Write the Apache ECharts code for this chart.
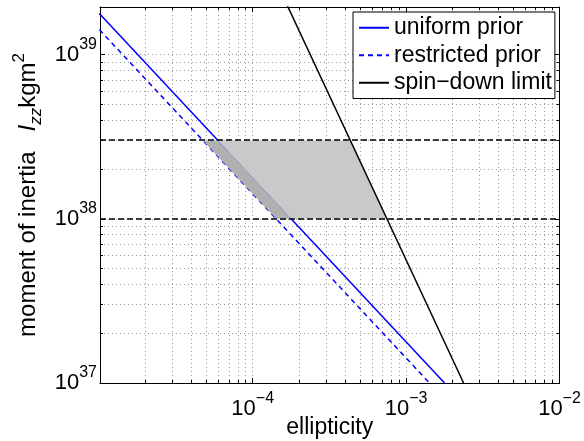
<!DOCTYPE html>
<html>
<head>
<meta charset="utf-8">
<script src="https://cdn.jsdelivr.net/npm/echarts@6/dist/echarts.min.js"></script>
<style>
  html, body { margin: 0; padding: 0; background: #fff; }
  #chart { width: 584px; height: 441px; }
</style>
</head>
<body>
<div id="chart"></div>
<script>
// values (ellipticity vs moment of inertia, kg m^2)
var uniformEps = [1e-5, 1.78e-3]
var uniformI = [1.78e39, 1e37]
var restrictedEps = [1e-5, 1.42e-3]
var restrictedI = [1.42e39, 1e37]
var spinEps = [1.5e-4, 2.37e-3]
var spinI = [2.5e39, 1e37]
// horizontal limits on I_zz
var bandI = [1e38, 3e38]
// corners of the shaded regions
var darkEps = [4.73e-5, 5.93e-5, 1.78e-4, 1.42e-4]
var darkI = [3e38, 3e38, 1e38, 1e38]
var lightEps = [5.93e-5, 4.33e-4, 7.5e-4, 1.78e-4]
var lightI = [3e38, 3e38, 1e38, 1e38]
// axes
var xRange = [1.01e-5, 1e-2]
var yRange = [1e37, 1.95e39]
var xDecades = [1e-5, 1e-4, 1e-3, 1e-2]
var yDecades = [1e37, 1e38, 1e39]
var xLabels = [1e-4, 1e-3, 1e-2]
var yLabels = [1e37, 1e38, 1e39]
var seriesNames = ['uniform prior', 'restricted prior', 'spin\u2212down limit']

var lg = Math.log10
var FONT = '"Liberation Sans", Arial, Helvetica, sans-serif'

function toLog (arr) {
  return arr.map(function (v) { return lg(v) })
}
function inRange (vals, range) {
  return vals.filter(function (v) { return v >= lg(range[0]) - 1e-9 && v <= lg(range[1]) + 1e-9 })
}
function minorTicks (decades, range) {
  var out = []
  decades.forEach(function (d) {
    for (var k = 2; k <= 9; k++) out.push(lg(k * d))
  })
  return inRange(out, range)
}
function pairs (xs, ys) {
  return xs.map(function (x, i) { return [lg(x), lg(ys[i])] })
}

var xMajor = inRange(toLog(xDecades), xRange)
var xMinor = minorTicks(xDecades, xRange)
var yMajor = inRange(toLog(yDecades), yRange)
var yMinor = minorTicks(yDecades, yRange)

var gridLine = { type: [1, 3], color: '#9a9a9a', width: 1 }

function powLabel (v) {
  var e = Math.round(v)
  return '{b|10}{s|' + (e < 0 ? '\u2212' + (-e) : e) + '}'
}
var powRich = {
  b: { fontSize: 22, lineHeight: 36, color: '#000', fontFamily: FONT },
  s: { fontSize: 16, lineHeight: 16, verticalAlign: 'top', color: '#000', fontFamily: FONT }
}

// one axis layer: major or minor ticks, pointing inward
function axisLayer (pos, range, ticks, major, extra) {
  var a = {
    type: 'value',
    position: pos,
    min: lg(range[0]),
    max: lg(range[1]),
    nameMoveOverlap: false,
    axisLine: { show: major, onZero: false, lineStyle: { color: '#000', width: 1 } },
    axisTick: { show: true, inside: true, length: major ? 5 : 3, customValues: ticks, lineStyle: { color: '#000', width: 1 } },
    axisLabel: { show: false },
    splitLine: { show: pos === 'bottom' || pos === 'left', customValues: ticks, lineStyle: gridLine }
  }
  return Object.assign(a, extra || {})
}

// gray regions between the lines and the spin-down limit
function shadeSeries (eps, I, color) {
  var data = pairs(eps, I)
  return {
    type: 'custom',
    z: 3,
    silent: true,
    data: data,
    renderItem: function (params, api) {
      if (params.dataIndex !== 0) return null
      var pts = data.map(function (d) { return api.coord(d) })
      return { type: 'polygon', shape: { points: pts }, style: { fill: color } }
    }
  }
}

var chart = echarts.init(document.getElementById('chart'))

chart.setOption({
  animation: false,
  textStyle: { fontFamily: FONT },
  grid: { left: 100, right: 24.5, top: 7, bottom: 58, containLabel: false, outerBoundsMode: 'none' },
  legend: {
    data: seriesNames,
    orient: 'vertical',
    left: 353,
    top: 12,
    padding: [2, 3, 2, 5],
    itemGap: 0,
    itemWidth: 30,
    itemHeight: 10,
    backgroundColor: '#fff',
    borderColor: '#000',
    borderWidth: 1,
    borderRadius: 0,
    z: 10,
    itemStyle: { opacity: 0 },
    textStyle: { fontSize: 23, lineHeight: 27.5, color: '#000', fontFamily: FONT }
  },
  xAxis: [
    axisLayer('bottom', xRange, xMajor, true, {
      name: 'ellipticity',
      nameLocation: 'middle',
      nameGap: 32,
      nameTextStyle: { fontSize: 23, lineHeight: 26, color: '#000', fontFamily: FONT },
      axisLabel: { show: true, customValues: toLog(xLabels), formatter: powLabel, rich: powRich, margin: 8 }
    }),
    axisLayer('bottom', xRange, xMinor, false),
    axisLayer('top', xRange, xMajor, true),
    axisLayer('top', xRange, xMinor, false)
  ],
  yAxis: [
    axisLayer('left', yRange, yMajor, true, {
      name: '{n|moment of inertia   }{i|I}{sub|zz}{n|kgm}{sup|2}',
      nameLocation: 'middle',
      nameGap: 55,
      nameTextStyle: {
        color: '#000',
        rich: {
          n: { fontSize: 24, lineHeight: 34, color: '#000', fontFamily: FONT },
          i: { fontSize: 24, lineHeight: 34, fontStyle: 'italic', color: '#000', fontFamily: FONT },
          sub: { fontSize: 17, lineHeight: 16, fontStyle: 'italic', verticalAlign: 'bottom', color: '#000', fontFamily: FONT },
          sup: { fontSize: 17, lineHeight: 16, verticalAlign: 'top', color: '#000', fontFamily: FONT }
        }
      },
      axisLabel: { show: true, customValues: toLog(yLabels), formatter: powLabel, rich: powRich, margin: 3 }
    }),
    axisLayer('left', yRange, yMinor, false),
    axisLayer('right', yRange, yMajor, true),
    axisLayer('right', yRange, yMinor, false)
  ],
  series: [
    {
      name: seriesNames[0],
      type: 'line',
      z: 2,
      symbol: 'none',
      lineStyle: { color: '#0000ff', width: 1.5 },
      itemStyle: { color: '#0000ff' },
      data: pairs(uniformEps, uniformI)
    },
    {
      name: seriesNames[1],
      type: 'line',
      z: 2,
      symbol: 'none',
      lineStyle: { color: '#0000ff', width: 1.5, type: [5, 4] },
      itemStyle: { color: '#0000ff' },
      data: pairs(restrictedEps, restrictedI)
    },
    shadeSeries(darkEps, darkI, '#b0b0b0'),
    shadeSeries(lightEps, lightI, '#c9c9c9'),
    {
      name: seriesNames[2],
      type: 'line',
      z: 5,
      symbol: 'none',
      lineStyle: { color: '#000', width: 1.5 },
      itemStyle: { color: '#000' },
      data: pairs(spinEps, spinI),
      markLine: {
        silent: true,
        symbol: 'none',
        label: { show: false },
        lineStyle: { color: '#000', width: 1.5, type: [6, 3] },
        data: bandI.map(function (v) { return { yAxis: lg(v) } })
      }
    }
  ]
})
</script>
</body>
</html>
